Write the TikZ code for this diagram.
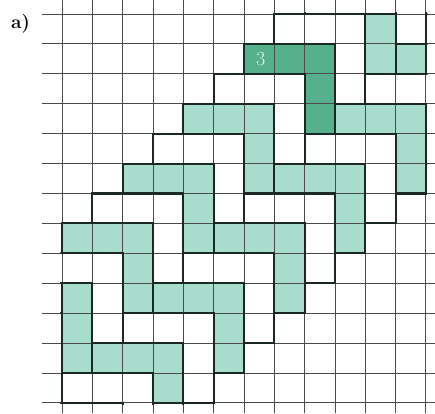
\documentclass[tikz,border=0pt]{standalone}
\definecolor{tealL}{RGB}{168,221,205}
\definecolor{tealD}{RGB}{86,176,140}
\definecolor{gridc}{RGB}{75,75,75}
\definecolor{edgec}{RGB}{28,40,36}
\definecolor{labc}{RGB}{225,245,238}
\newcommand\vtile[2]{(#1-2,#2) -- (#1+1,#2) -- (#1+1,#2+3) -- (#1,#2+3) -- (#1,#2+1) -- (#1-2,#2+1) -- cycle}
\tikzset{
  thinline/.style={draw=gridc, line width=0.95pt},
  thickline/.style={draw=edgec, line width=2.1pt, line join=miter},
  edgeseg/.style={draw=edgec, line width=2.1pt, line cap=rect},
}
\begin{document}
\begin{tikzpicture}[x=1pt,y=1pt]
\useasboundingbox (0,0) rectangle (435,-413);
\fill[white] (0,0) rectangle (435,-413);
\node[font=\fontsize{19}{19}\selectfont\bfseries, inner sep=0pt] (lab) at (20.5,-24) {a)};
\begin{scope}[shift={(62,-14)}, x=30.33pt, y=-29.92pt]
  % coloured tiles
  \begin{scope}
    \clip (0,0) rectangle (12,13);
    \foreach \m in {-4,-2,...,12} {
      \foreach \n in {0,1} {
        \pgfmathtruncatemacro\cx{8-\m+3*\n}
        \pgfmathtruncatemacro\cy{1+\m+2*\n}
        \fill[tealL] \vtile{\cx}{\cy};
      }
    }
    \fill[tealD] \vtile{8}{1};
  \end{scope}
  % thin grid
  \foreach \i in {0,...,12} \draw[thinline] (\i,-0.47) -- (\i,13.34);
  \foreach \j in {0,...,13} \draw[thinline] (-0.66,\j) -- (12.3,\j);
  % tile outlines
  \begin{scope}
    \clip (-0.05,-0.05) rectangle (12.05,13.05);
    \foreach \m in {-4,...,12} {
      \foreach \n in {0,1} {
        \pgfmathtruncatemacro\cx{8-\m+3*\n}
        \pgfmathtruncatemacro\cy{1+\m+2*\n}
        \draw[thickline] \vtile{\cx}{\cy};
      }
    }
  \end{scope}
  \draw[edgeseg] (10,0) -- (11,0) (12,1) -- (12,2) (0,9) -- (0,12) (3,13) -- (4,13);
  \node[font=\fontsize{20}{20}\selectfont, text=labc, inner sep=0pt] (three) at (6.55,1.5) {3};
\end{scope}
\end{tikzpicture}
\end{document}
